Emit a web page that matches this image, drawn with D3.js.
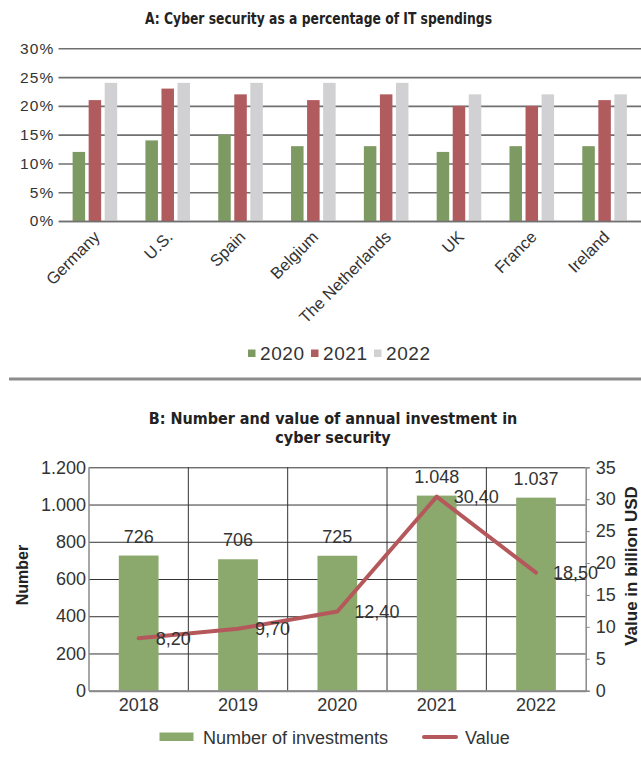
<!DOCTYPE html>
<html>
<head>
<meta charset="utf-8">
<script src="https://cdn.jsdelivr.net/npm/d3@7"></script>
<style>
  body { margin: 0; background: #fff; }
  svg { display: block; font-family: "Liberation Sans", Arial, sans-serif; }
</style>
</head>
<body>
<div id="zone_graphique"></div>
<script>
// donnees graphique A
var pays = ["Germany", "U.S.", "Spain", "Belgium", "The Netherlands", "UK", "France", "Ireland"];
var annees = ["2020", "2021", "2022"];
var part2020 = [12, 14, 15, 13, 13, 12, 13, 13];
var part2021 = [21, 23, 22, 21, 22, 20, 20, 21];
var part2022 = [24, 24, 24, 24, 24, 22, 22, 22];
var ticksA = [0, 5, 10, 15, 20, 25, 30];

// donnees graphique B
var anneesB = ["2018", "2019", "2020", "2021", "2022"];
var nombre = [726, 706, 725, 1048, 1037];
var valeur = [8.2, 9.7, 12.4, 30.4, 18.5];
var ticksGauche = [0, 200, 400, 600, 800, 1000, 1200];
var ticksDroite = [0, 5, 10, 15, 20, 25, 30, 35];

var couleurs = ["#7e9a63", "#b05b5e", "#d1d1d3"];
var vert = "#8ba96c", rouge = "#b5585b";

var largeur = 641, hauteur = 757;
var condense = "'Liberation Sans Narrow', 'DejaVu Sans Condensed', sans-serif";

var locale = d3.formatLocale({decimal: ",", thousands: ".", grouping: [3], currency: ["", ""]});
var fmtMille = locale.format(",");
var fmtVal = locale.format(",.2f");

var svg = d3.select("#zone_graphique").append("svg")
    .attr("width", largeur)
    .attr("height", hauteur);

// ---------- Graphique A ----------
var series = [part2020, part2021, part2022];

svg.append("text")
    .attr("x", 318.5).attr("y", 24)
    .attr("text-anchor", "middle")
    .attr("textLength", 347)
    .attr("lengthAdjust", "spacingAndGlyphs")
    .style("font-family", condense)
    .style("font-weight", "bold")
    .style("font-size", "15px")
    .attr("fill", "#222")
    .text("A: Cyber security as a percentage of IT spendings");

var x0 = d3.scaleBand().domain(pays).range([58.5, 641]);
var x1 = d3.scaleBand().domain(annees).range([0, x0.bandwidth()])
    .paddingInner(0.22).paddingOuter(0.88);
var yA = d3.scaleLinear().domain([0, 30]).range([221, 48.3]);

var gA = svg.append("g");

// lignes de grille
gA.append("g")
    .attr("transform", "translate(58.5,0)")
    .call(d3.axisLeft(yA).tickValues(ticksA).tickSize(-(641 - 58.5)).tickFormat(function (d) { return d + "%"; }))
    .call(function (g) { g.select(".domain").remove(); })
    .call(function (g) {
        g.selectAll(".tick line").attr("stroke", "#707070").attr("stroke-width", 1.6);
        g.selectAll(".tick text")
            .attr("x", -4)
            .attr("fill", "#333")
            .style("font-size", "15.5px")
            .style("letter-spacing", "1.2px");
    });

annees.forEach(function (an, i) {
    gA.append("g").selectAll("rect")
        .data(series[i])
        .enter()
        .append("rect")
            .attr("x", function (d, j) { return x0(pays[j]) + x1(an); })
            .attr("y", function (d) { return yA(d); })
            .attr("width", x1.bandwidth())
            .attr("height", function (d) { return yA(0) - yA(d); })
            .attr("fill", couleurs[i]);
});

// axe x avec etiquettes inclinees
gA.append("g")
    .attr("transform", "translate(0,221)")
    .call(d3.axisBottom(x0).tickSize(0))
    .call(function (g) {
        g.select(".domain").attr("stroke", "#707070").attr("stroke-width", 1.6);
        g.selectAll(".tick text")
            .attr("text-anchor", "end")
            .attr("fill", "#333")
            .attr("x", 0).attr("y", 0).attr("dy", 0)
            .style("font-size", "16.5px")
            .attr("transform", "translate(6,17) rotate(-45)");
    });

// legende A
var legA = svg.append("g").attr("transform", "translate(248,0)");
var posLeg = [0, 63, 126];
annees.forEach(function (an, i) {
    legA.append("rect")
        .attr("x", posLeg[i]).attr("y", 349.5)
        .attr("width", 7.5).attr("height", 7.5)
        .attr("fill", couleurs[i]);
    legA.append("text")
        .attr("x", posLeg[i] + 12).attr("y", 359.5)
        .attr("fill", "#333")
        .style("font-size", "19px")
        .style("letter-spacing", "0.6px")
        .text(an);
});

// separateur
svg.append("line")
    .attr("x1", 9).attr("x2", 641)
    .attr("y1", 379).attr("y2", 379)
    .attr("stroke", "#8c8c8c").attr("stroke-width", 3);

// ---------- Graphique B ----------
svg.append("text")
    .attr("x", 333).attr("y", 424)
    .attr("text-anchor", "middle")
    .style("font-family", condense)
    .style("font-weight", "bold")
    .style("font-size", "16px")
    .attr("fill", "#222")
    .text("B: Number and value of annual investment in");
svg.append("text")
    .attr("x", 333).attr("y", 443)
    .attr("text-anchor", "middle")
    .style("font-family", condense)
    .style("font-weight", "bold")
    .style("font-size", "16px")
    .attr("fill", "#222")
    .text("cyber security");

var gauche = 89, droite = 585.7, haut = 467.3, bas = 690.7;
var xB = d3.scaleBand().domain(anneesB).range([gauche, droite]);
var yG = d3.scaleLinear().domain([0, 1200]).range([bas, haut]);
var yD = d3.scaleLinear().domain([0, 35]).range([bas, haut]);

var gB = svg.append("g");

// grille horizontale + axe gauche
gB.append("g")
    .attr("transform", "translate(" + gauche + ",0)")
    .call(d3.axisLeft(yG).tickValues(ticksGauche).tickSize(-(droite - gauche)).tickFormat(fmtMille))
    .call(function (g) {
        g.select(".domain").remove();
        g.selectAll(".tick line").attr("stroke", "#333").attr("stroke-width", 1);
        g.selectAll(".tick text")
            .attr("x", -3)
            .attr("fill", "#333")
            .style("font-size", "18px");
    });

// grille verticale
gB.append("g").selectAll("line")
    .data(anneesB.slice(1))
    .enter()
    .append("line")
        .attr("x1", function (d) { return xB(d); })
        .attr("x2", function (d) { return xB(d); })
        .attr("y1", haut).attr("y2", bas)
        .attr("stroke", "#333").attr("stroke-width", 1);

// barres
gB.append("g").selectAll("rect")
    .data(nombre)
    .enter()
    .append("rect")
        .attr("x", function (d, i) { return xB(anneesB[i]) + xB.bandwidth() * 0.3; })
        .attr("y", function (d) { return yG(d); })
        .attr("width", xB.bandwidth() * 0.4)
        .attr("height", function (d) { return bas - yG(d); })
        .attr("fill", vert);

// bords du graphique
gB.append("line")
    .attr("x1", gauche).attr("x2", gauche).attr("y1", haut).attr("y2", bas)
    .attr("stroke", "#8a8a8a").attr("stroke-width", 1.5);

// axe droit
gB.append("g")
    .attr("transform", "translate(" + droite + ",0)")
    .call(d3.axisRight(yD).tickValues(ticksDroite).tickSize(4).tickPadding(6))
    .call(function (g) {
        g.select(".domain").attr("stroke", "#8a8a8a").attr("stroke-width", 1.5);
        g.selectAll(".tick line").attr("stroke", "#8a8a8a");
        g.selectAll(".tick text").attr("fill", "#333").style("font-size", "18px");
    });

// axe bas
gB.append("g")
    .attr("transform", "translate(0," + bas + ")")
    .call(d3.axisBottom(xB).tickSize(0).tickPadding(8))
    .call(function (g) {
        g.select(".domain").attr("stroke", "#8a8a8a").attr("stroke-width", 2);
        g.selectAll(".tick text").attr("fill", "#333").style("font-size", "18px");
    });

// etiquettes des barres
gB.append("g").selectAll("text")
    .data(nombre)
    .enter()
    .append("text")
        .attr("x", function (d, i) { return xB(anneesB[i]) + xB.bandwidth() / 2; })
        .attr("y", function (d) { return yG(d) - 13; })
        .attr("text-anchor", "middle")
        .attr("fill", "#333")
        .style("font-size", "18px")
        .text(function (d) { return fmtMille(d); });

// ligne de valeur
var ligne = d3.line()
    .x(function (d, i) { return xB(anneesB[i]) + xB.bandwidth() / 2; })
    .y(function (d) { return yD(d); });

gB.append("path")
    .datum(valeur)
    .attr("d", ligne)
    .attr("fill", "none")
    .attr("stroke", rouge)
    .attr("stroke-width", 4)
    .attr("stroke-linejoin", "round")
    .attr("stroke-linecap", "round");

gB.append("g").selectAll("text")
    .data(valeur)
    .enter()
    .append("text")
        .attr("x", function (d, i) { return xB(anneesB[i]) + xB.bandwidth() / 2 + 17; })
        .attr("y", function (d) { return yD(d); })
        .attr("dy", "0.35em")
        .attr("fill", "#333")
        .style("font-size", "18px")
        .text(function (d) { return fmtVal(d); });

// titres des axes
svg.append("text")
    .attr("transform", "translate(28,575) rotate(-90)")
    .attr("text-anchor", "middle")
    .style("font-weight", "bold")
    .style("font-size", "16px")
    .attr("fill", "#222")
    .text("Number");
svg.append("text")
    .attr("transform", "translate(637,566) rotate(-90)")
    .attr("text-anchor", "middle")
    .style("font-weight", "bold")
    .style("font-size", "17px")
    .attr("fill", "#222")
    .text("Value in billion USD");

// legende B
svg.append("rect")
    .attr("x", 159.5).attr("y", 732.5)
    .attr("width", 34).attr("height", 8.5)
    .attr("fill", vert);
svg.append("text")
    .attr("x", 203).attr("y", 743.5)
    .attr("fill", "#333")
    .style("font-size", "18px")
    .text("Number of investments");
svg.append("line")
    .attr("x1", 424).attr("x2", 456)
    .attr("y1", 737).attr("y2", 737)
    .attr("stroke", rouge).attr("stroke-width", 4)
    .attr("stroke-linecap", "round");
svg.append("text")
    .attr("x", 465).attr("y", 743.5)
    .attr("fill", "#333")
    .style("font-size", "18px")
    .text("Value");
</script>
</body>
</html>
